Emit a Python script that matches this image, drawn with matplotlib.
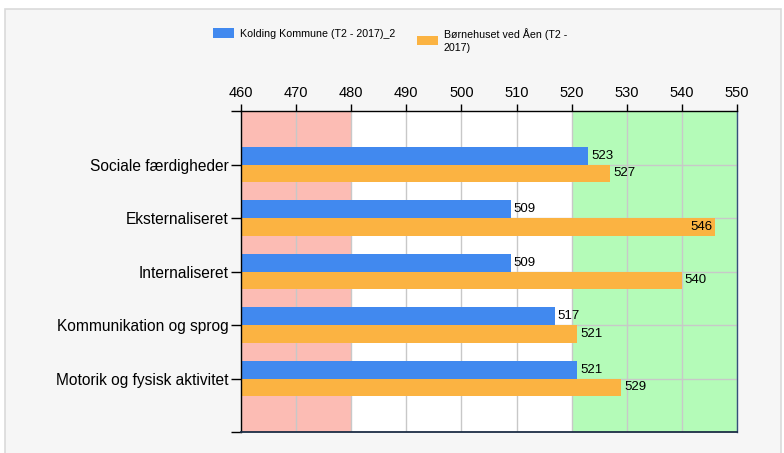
import matplotlib
matplotlib.use("Agg")
import matplotlib.pyplot as plt
from matplotlib.patches import Rectangle

categories = ["Sociale færdigheder", "Eksternaliseret", "Internaliseret",
              "Kommunikation og sprog", "Motorik og fysisk aktivitet"]
kolding = [523, 509, 509, 517, 521]
boernehuset = [527, 546, 540, 521, 529]
series_names = ["Kolding Kommune (T2 - 2017)_2", "Børnehuset ved Åen (T2 -\n2017)"]
xticks = [460, 470, 480, 490, 500, 510, 520, 530, 540, 550]

blue = "#4189ef"
orange = "#fbb342"

plt.rcParams['font.family'] = ['Liberation Sans', 'DejaVu Sans']

fig = plt.figure(figsize=(7.84, 4.53), dpi=100)
fig.patch.set_facecolor("white")
fig.add_artist(Rectangle((5/784, -0.1), 776/784, 1 - 9/453 + 0.1, transform=fig.transFigure,
                         facecolor="#f6f6f6", edgecolor="#dadada", linewidth=1.2, zorder=0))

ax = fig.add_axes([241/784, 21/453, 496/784, 321/453])
ax.set_facecolor("white")
ax.axvspan(460, 480, color="#fcbcb4", zorder=0, lw=0)
ax.axvspan(520, 550, color="#b4fbb8", zorder=0, lw=0)

n = len(categories)
ypos = list(range(n))
h = 0.33
for i in range(n):
    ax.axhline(ypos[i], color="#c8c8c8", lw=1, zorder=0.5)
for x in xticks:
    ax.axvline(x, color="#c8c8c8", lw=1, zorder=0.5)

b1 = ax.barh([y - h/2 for y in ypos], [v - 460 for v in kolding], left=460, height=h,
             color=blue, zorder=2, label=series_names[0])
b2 = ax.barh([y + h/2 for y in ypos], [v - 460 for v in boernehuset], left=460, height=h,
             color=orange, zorder=2, label=series_names[1])

for bars, vals in ((b1, kolding), (b2, boernehuset)):
    for y, v in zip([bb.get_y() + bb.get_height()/2 for bb in bars], vals):
        if v > 543:
            ax.text(v - 0.4, y, str(v), ha="right", va="center", fontsize=9.5, zorder=3)
        else:
            ax.text(v + 0.5, y, str(v), ha="left", va="center", fontsize=9.5, zorder=3)

ax.set_xlim(460, 550)
ax.set_ylim(5, -1)
ax.xaxis.tick_top()
ax.set_xticks(xticks)
ax.set_xticklabels([str(x) for x in xticks], fontsize=10.5)
ax.set_yticks(ypos)
ax.set_yticklabels(categories, fontsize=11.2)
ax.set_yticks([-1, 5], minor=True)
ax.tick_params(axis="x", which="both", direction="out", length=5, width=1, pad=3, color="black")
ax.tick_params(axis="y", which="both", direction="out", length=7, width=1, pad=2, color="black")
for s in ("left", "top", "bottom"):
    ax.spines[s].set_color("black")
    ax.spines[s].set_linewidth(1)
ax.spines["right"].set_color("#34507a")
ax.spines["right"].set_linewidth(1)
ax.spines["bottom"].set_linewidth(1.3)
ax.spines["bottom"].set_color("#1c2d45")

common = dict(frameon=False, fontsize=7.7, handlelength=2.0, handleheight=0.95,
              handletextpad=0.5, borderaxespad=0, borderpad=0)
fig.legend(handles=[b1], loc="center left", bbox_to_anchor=(213/784, 1 - 33.5/453), **common)
leg2 = fig.legend(handles=[b2], loc="center left", bbox_to_anchor=(417/784, 1 - 40.5/453), **common)
for t in leg2.get_texts():
    t.set_linespacing(1.45)

fig.savefig("out.png", dpi=100)
